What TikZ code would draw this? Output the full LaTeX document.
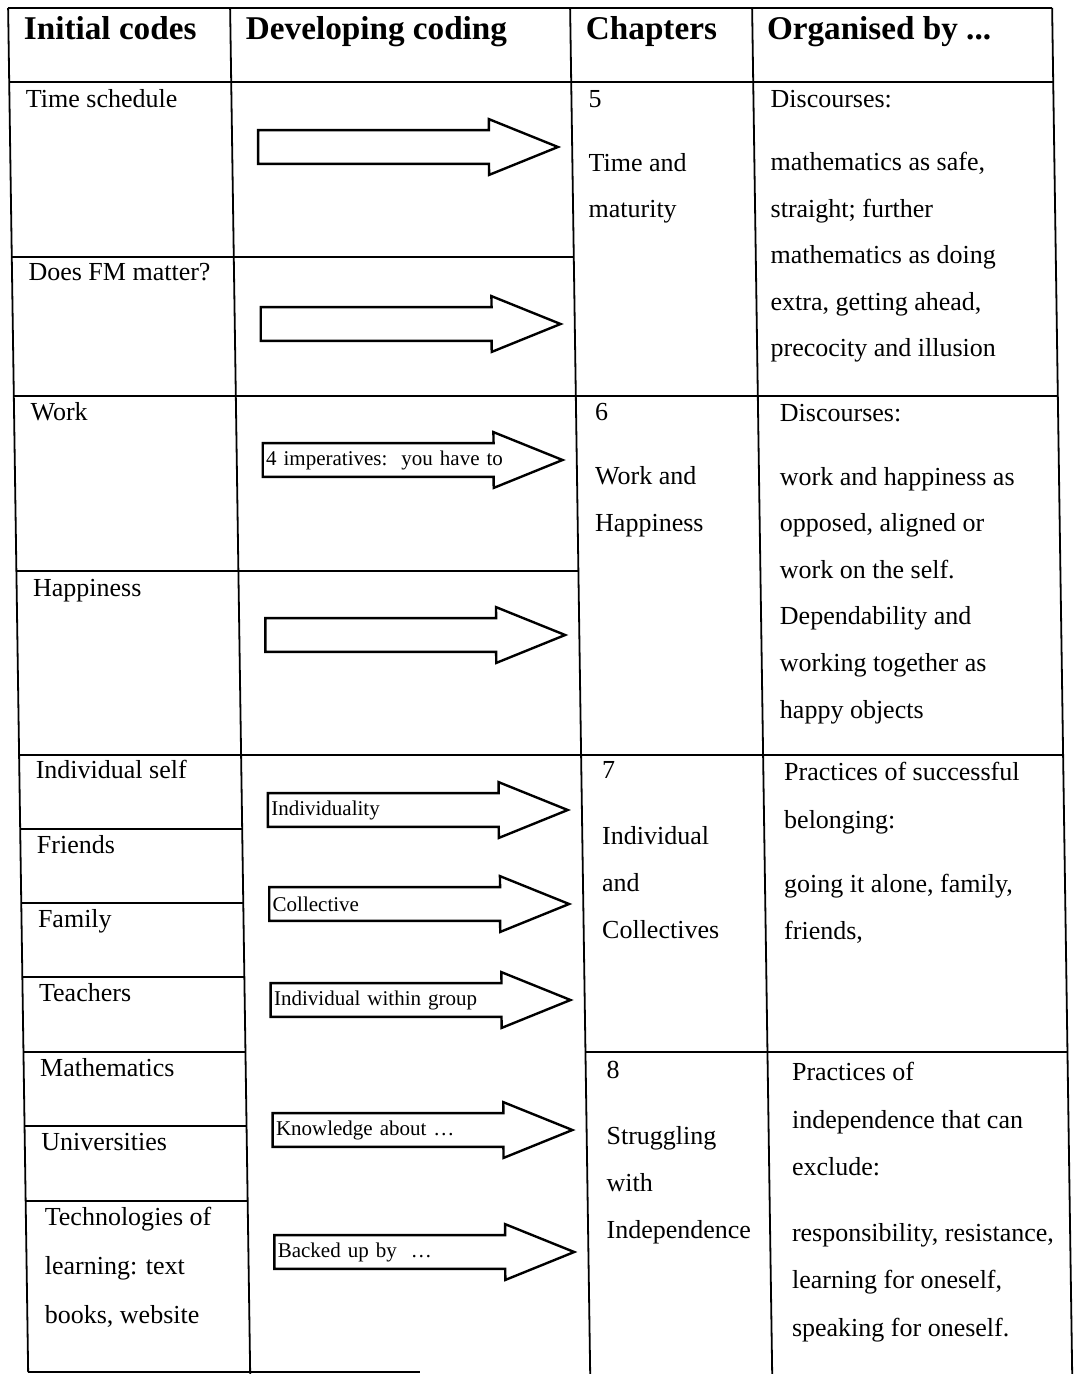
\documentclass[tikz,border=0pt]{standalone}
\usepackage{fontspec}
\setmainfont{Liberation Serif}
\usetikzlibrary{calc}

\tikzset{
  tableline/.style={line width=0.9pt, black},
  headtext/.style={anchor=base west, inner sep=0pt, font=\fontsize{16.6}{20}\selectfont\bfseries},
  cell/.style={anchor=base west, inner sep=0pt, align=left, font=\fontsize{13}{23.3}\selectfont},
  arrowbody/.style={anchor=west, inner xsep=1.5pt, inner ysep=0pt, text width=112pt, minimum height=16.5pt, align=left, font=\fontsize{10.5}{12}\selectfont},
  arrowline/.style={line width=1.2pt, line join=miter},
}

\begin{document}
\begin{tikzpicture}[x=0.5pt, y=-0.5pt]
		\fill[white] (0,0) rectangle (1076,1374);
		\useasboundingbox (0,0) rectangle (1076,1374);
		
		\begin{scope}[xslant=-0.0147]
		% table rules
		\draw[tableline] (8,8) -- (1052,8);
		\draw[tableline] (8,82) -- (1052,82);
		\draw[tableline] (8,396) -- (1052,396);
		\draw[tableline] (8,755) -- (1052,755);
		\draw[tableline] (8,257) -- (570,257);
		\draw[tableline] (8,571) -- (570,571);
		\foreach \y in {829,903,977,1052,1126,1201}
			\draw[tableline] (8,\y) -- (230,\y);
		\draw[tableline] (570,1052) -- (1052,1052);
		\draw[tableline] (8,1372) -- (400,1372);
		\draw[tableline] (8,8) -- (8,1372);
		\foreach \x in {230,570,752,1052}
			\draw[tableline] (\x,8) -- (\x,1374);
		
		% header row
		\node[headtext] (hInit) at (23,40) {Initial codes};
		\node[headtext] (hDev) at (245,40) {Developing coding};
		\node[headtext] (hChap) at (585,40) {Chapters};
		\node[headtext] (hOrg) at (766,40) {Organised by ...};
		
		% initial codes (base = last line)
		\node[cell] (iTime) at (24,108) {Time schedule};
		\node[cell] (iMatter) at (24,281) {Does FM matter?};
		\node[cell] (iWork) at (24,420) {Work};
		\node[cell] (iHappy) at (24,596) {Happiness};
		\node[cell] (iSelf) at (24,778) {Individual self};
		\node[cell] (iFriends) at (24,853) {Friends};
		\node[cell] (iFamily) at (24,927) {Family};
		\node[cell] (iTeach) at (24,1001) {Teachers};
		\node[cell] (iMaths) at (24,1076) {Mathematics};
		\node[cell] (iUni) at (24,1150) {Universities};
		\node[cell] (iTech) at (25,1323) {Technologies of\\[1.2pt]learning: text\\[1.2pt]books, website};
		
		% chapters
		\node[cell] (cFive) at (585,218) {5\\[8.4pt]Time and\\maturity};
		\node[cell] (cSix) at (587,531) {6\\[8.9pt]Work and\\Happiness};
		\node[cell] (cSeven) at (588,938) {7\\[10.1pt]Individual\\and\\Collectives};
		\node[cell] (cEight) at (588,1238) {8\\[10.1pt]Struggling\\with\\Independence};
		
		% organised by
		\node[cell] (oFive) at (765,357) {Discourses:\\[8pt]mathematics as safe,\\straight; further\\mathematics as doing\\extra, getting ahead,\\precocity and illusion};
		\node[cell] (oSix) at (769,718) {Discourses:\\[8.7pt]work and happiness as\\opposed, aligned or\\work on the self.\\Dependability and\\working together as\\happy objects};
		\node[cell] (oSeven) at (770,939) {Practices of successful\\[1pt]belonging:\\[8.6pt]going it alone, family,\\friends,};
		\node[cell] (oEight) at (772,1336) {Practices of\\[0.4pt]independence that can\\[0.4pt]exclude:\\[9.5pt]responsibility, resistance,\\[0.4pt]learning for oneself,\\[0.4pt]speaking for oneself.};
		
		% developing coding arrows
		\foreach \n/\y/\t in {aTime/147/{}, aMatter/324/{}, aWork/460/{4 imperatives:\ \ you have to}, aHappy/635/{}, aIndiv/810/{Individuality}, aColl/904/{Collective}, aGroup/1000/{Individual within group}, aKnow/1130/{Knowledge about \ldots}, aBack/1252/{Backed up by\ \ \ldots}}{
			\node[arrowbody] (\n) at (256,\y) {\rlap{\t}};
			\draw[arrowline] (\n.south west) -- (\n.north west) -- (\n.north east) -- ++(0,-11) -- ($(\n.east)+(69,0)$) -- ($(\n.south east)+(0,11)$) -- (\n.south east) -- cycle;
		}
		\end{scope}
\end{tikzpicture}
\end{document}
